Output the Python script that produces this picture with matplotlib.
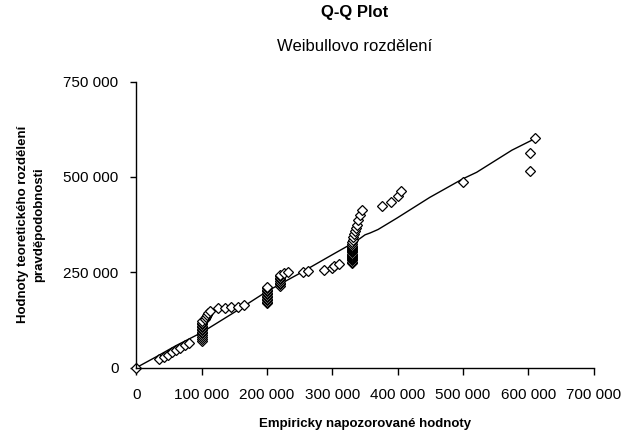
import matplotlib
matplotlib.use("Agg")
import matplotlib.pyplot as plt
from matplotlib.ticker import FuncFormatter

plt.rcParams["font.family"] = ["Liberation Sans", "DejaVu Sans"]

# empiricke hodnoty (x) a teoreticke kvantily (y)
emp = ([0, 35000, 42000, 48000, 55000, 60000, 67000, 75000, 80000]
       + [100000] * 13
       + [105000, 107000, 108000, 110000, 112000]
       + [125000, 135000, 145000, 155000, 165000]
       + [200000] * 12
       + [220000] * 8
       + [226000, 232000, 255000, 262000, 287000, 300000, 303000, 310000]
       + [330000] * 18
       + [331000, 332000, 333000, 334000, 336000, 338000, 340000, 342000, 345000]
       + [376000, 390000, 400000, 405000, 500000, 603000, 603000, 610000])
teor = ([0, 22000, 28000, 34000, 40000, 46000, 52000, 58000, 65000]
        + [70000, 75000, 80000, 85000, 90000, 94000, 98000, 102000, 106000, 110000, 114000, 118000, 122000]
        + [128000, 133000, 138000, 143000, 147000]
        + [155000, 157000, 158000, 160000, 163000]
        + [168000, 172000, 176000, 180000, 184000, 188000, 192000, 196000, 200000, 204000, 208000, 212000]
        + [215000, 219000, 223000, 227000, 231000, 235000, 239000, 243000]
        + [247000, 250000, 250000, 252000, 255000, 262000, 266000, 272000]
        + [275000, 278000, 281000, 284000, 287000, 290000, 293000, 296000, 299000, 302000, 305000, 308000,
           311000, 314000, 317000, 320000, 324000, 328000]
        + [334000, 342000, 350000, 358000, 366000, 375000, 388000, 400000, 413000]
        + [423000, 434000, 450000, 463000, 486000, 515000, 562000, 602000])

# teoreticka krivka
line_x = [0, 30000, 60000, 100000, 150000, 200000, 250000, 300000, 330000, 342000, 350000, 358000,
          370000, 399000, 449000, 500000, 521000, 575000, 610000]
line_y = [0, 28000, 57000, 92000, 145000, 200000, 247000, 296000, 325000, 338000, 348000, 353000,
          362000, 392000, 446000, 495000, 512000, 570000, 600000]


def fmt(v, pos):
    return "{:,.0f}".format(v).replace(",", " ")


fig = plt.figure(figsize=(6.27, 4.36), dpi=100)
ax = fig.add_axes([0.2177, 0.157, 0.7289, 0.656])

ax.plot(line_x, line_y, "-", color="black", lw=1.0)
ax.plot(emp, teor, "D", ms=5, mfc="white", mec="black", mew=0.9, ls="none", clip_on=False)

ax.set_xlim(0, 700000)
ax.set_ylim(0, 750000)
ax.set_xticks(range(0, 700001, 100000))
ax.set_yticks([0, 250000, 500000, 750000])
ax.xaxis.set_major_formatter(FuncFormatter(fmt))
ax.yaxis.set_major_formatter(FuncFormatter(fmt))

for s in ["top", "right"]:
    ax.spines[s].set_visible(False)
for s in ["left", "bottom"]:
    ax.spines[s].set_linewidth(1.0)

ax.tick_params(axis="x", direction="out", length=5, width=1, pad=10, labelsize=11)
ax.tick_params(axis="y", direction="out", length=4, width=1, pad=9, labelsize=11)

ax.set_xlabel("Empiricky napozorované hodnoty", fontsize=9.5, fontweight="bold", labelpad=11)
ax.set_ylabel("Hodnoty teoretického rozdělení\npravděpodobnosti", fontsize=9.5,
              fontweight="bold", labelpad=13, linespacing=1.5)

fig.text(0.566, 0.972, "Q-Q Plot", ha="center", va="center", fontsize=12, fontweight="bold")
fig.text(0.566, 0.894, "Weibullovo rozdělení", ha="center", va="center", fontsize=12)

fig.savefig("out.png", dpi=100)
